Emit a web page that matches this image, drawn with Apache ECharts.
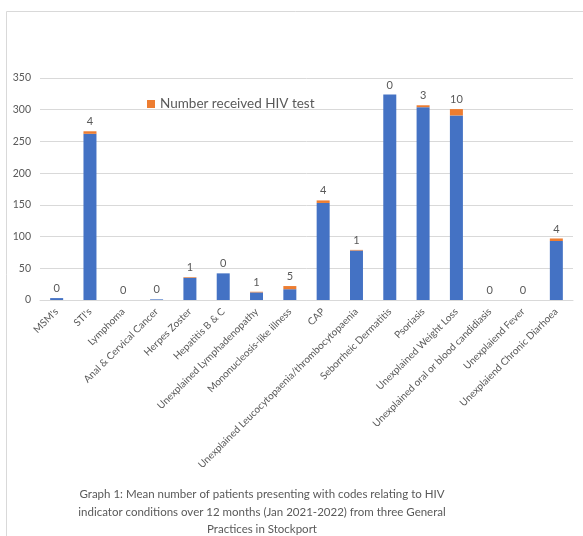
<!DOCTYPE html>
<html>
<head>
<meta charset="utf-8">
<style>
  html, body { margin: 0; padding: 0; background: #ffffff; }
  #chart { width: 583px; height: 536px; }
</style>
<script src="https://cdn.jsdelivr.net/npm/echarts@6/dist/echarts.min.js"></script>
</head>
<body>
<div id="chart"></div>
<script>
// HIV indicator condition codes (x axis)
const categories = [
  "MSM's", "STI's", "Lymphoma", "Anal & Cervical Cancer", "Herpes Zoster",
  "Hepatitis B & C", "Unexplained Lymphadenopathy", "Mononucleosis-like illness",
  "CAP", "Unexplained Leucocytopaenia/thrombocytopaenia", "Seborrheic Dermatitis",
  "Psoriasis", "Unexplained Weight Loss", "Unexplained oral or blood candidiasis",
  "Unexplaiend Fever", "Unexplaiend Chronic Diarhoea"
];

// Mean number of patients presenting with each code, not tested
const presenting = [3, 262, 0, 1, 35, 42, 12, 17, 153, 78, 324, 304, 291, 0, 0, 93];

// Number of those patients who received an HIV test
const receivedTest = [0, 4, 0, 0, 1, 0, 1, 5, 4, 1, 0, 3, 10, 0, 0, 4];

const yTicks = { min: 0, max: 350, interval: 50 };

const captionLines = [
  "Graph 1: Mean number of patients presenting with codes relating to HIV",
  "indicator conditions over 12 months (Jan 2021-2022) from three General",
  "Practices in Stockport"
];

const FONT = "Lato, 'Open Sans', sans-serif";
const GREY = "#595959";

const chart = echarts.init(document.getElementById('chart'), null, { renderer: 'canvas' });

chart.setOption({
  backgroundColor: '#ffffff',
  animation: false,
  textStyle: { fontFamily: FONT },
  graphic: [
    {
      type: 'rect',
      shape: { x: 6.5, y: 11.5, width: 600, height: 560 },
      style: { fill: 'none', stroke: '#d9d9d9', lineWidth: 1 },
      silent: true
    },
    {
      type: 'text',
      x: 262,
      y: 486,
      style: {
        text: captionLines.join('\n'),
        font: "11.5px " + FONT,
        fill: GREY,
        align: 'center',
        lineHeight: 17.5
      }
    }
  ],
  legend: {
    data: ['Number received HIV test'],
    left: 142,
    top: 92,
    itemWidth: 8,
    itemHeight: 8,
    itemGap: 4,
    icon: 'rect',
    textStyle: { color: GREY, fontSize: 13.5, fontFamily: FONT }
  },
  grid: { left: 40, right: 10, top: 78, bottom: 236, containLabel: false },
  xAxis: {
    type: 'category',
    data: categories,
    axisLine: { lineStyle: { color: '#d9d9d9' } },
    axisTick: { show: false },
    axisLabel: {
      interval: 0,
      rotate: 45,
      margin: 10,
      color: GREY,
      fontSize: 10,
      fontFamily: FONT
    }
  },
  yAxis: {
    type: 'value',
    min: yTicks.min,
    max: yTicks.max,
    interval: yTicks.interval,
    axisLine: { show: false },
    axisTick: { show: false },
    splitLine: { lineStyle: { color: '#d9d9d9' } },
    axisLabel: { color: GREY, fontSize: 10.5, margin: 9, fontFamily: FONT }
  },
  series: [
    {
      name: 'Presenting',
      type: 'bar',
      stack: 'total',
      data: presenting,
      barWidth: 13,
      itemStyle: { color: '#4472C4' }
    },
    {
      name: 'Number received HIV test',
      type: 'bar',
      stack: 'total',
      data: receivedTest,
      barWidth: 13,
      itemStyle: { color: '#ED7D31' },
      label: {
        show: true,
        position: 'top',
        distance: 4,
        color: GREY,
        fontSize: 11,
        fontFamily: FONT
      }
    }
  ]
});
</script>
</body>
</html>
